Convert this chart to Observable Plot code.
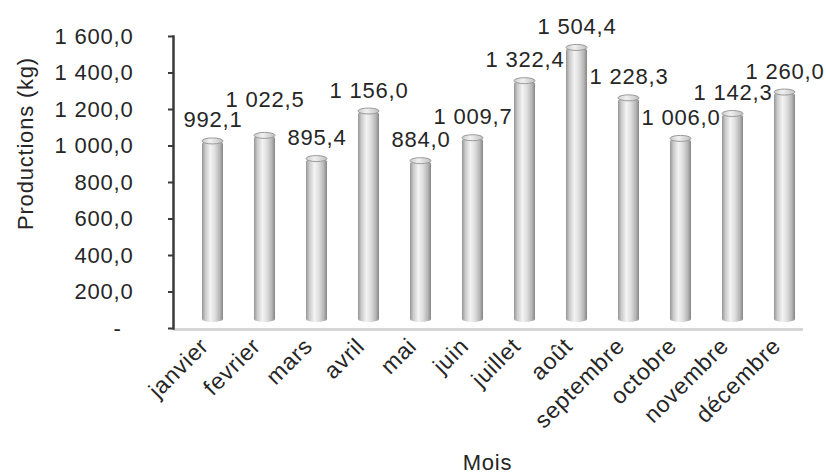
<!DOCTYPE html>
<html>
<head>
<meta charset="utf-8">
<script src="https://cdn.jsdelivr.net/npm/d3@7"></script>
<script src="https://cdn.jsdelivr.net/npm/@observablehq/plot@0.6"></script>
<style>
  html, body { margin: 0; padding: 0; background: #fff; }
  svg { font-family: "Liberation Sans", Arial, sans-serif; letter-spacing: 0.8px; }
</style>
</head>
<body>
<div id="chart"></div>
<script>
const months = ["janvier","fevrier","mars","avril","mai","juin","juillet","août","septembre","octobre","novembre","décembre"];
const productions = [992.1, 1022.5, 895.4, 1156.0, 884.0, 1009.7, 1322.4, 1504.4, 1228.3, 1006.0, 1142.3, 1260.0];
const yTicks = [0, 200, 400, 600, 800, 1000, 1200, 1400, 1600];
const yTitle = "Productions (kg)";
const xTitle = "Mois";

const data = months.map((m, i) => ({month: m, value: productions[i]}));
const fr = d3.formatLocale({decimal: ",", thousands: " ", grouping: [3]}).format(",.1f");
const textColor = "#262626";

const svg = Plot.plot({
  width: 826,
  height: 475,
  marginLeft: 173,
  marginRight: 3,
  marginTop: 36,
  marginBottom: 147,
  style: {color: textColor, background: "#fff", fontSize: "22px"},
  x: {domain: months, type: "band", paddingInner: 0.6, paddingOuter: 0.516, axis: null},
  y: {domain: [0, 1600], axis: null},
  marks: [
    Plot.ruleY([0], {stroke: "#d6d6d6", strokeWidth: 3, insetRight: 20, dy: 1}),
    Plot.barY(data, {x: "month", y: "value", fill: "url(#cyl)", rx: 10, ry: 3, dy: -6}),
    Plot.barY(data, {x: "month", y1: "value", y2: "value", insetTop: -3, insetBottom: -3,
      fill: "url(#cap)", stroke: "#9a9a9a", strokeWidth: 1, rx: 10.5, ry: 3, dy: -6}),
    Plot.text(data, {filter: d => d.month !== "fevrier", x: "month", y: "value", text: d => fr(d.value),
      lineAnchor: "bottom", dy: -20, fontSize: 22, fill: textColor}),
    Plot.text(data, {filter: d => d.month === "fevrier", x: "month", y: "value", text: d => fr(d.value),
      lineAnchor: "bottom", dy: -35, fontSize: 22, fill: textColor}),
    Plot.axisY({ticks: yTicks, tickSize: 5, tickPadding: 35, fontSize: 22, label: null,
      tickFormat: d => d === 0 ? "" : fr(d), stroke: "#3a3a3a", strokeWidth: 2, fill: textColor}),
    Plot.text(["-"], {y: () => 0, frameAnchor: "left", dx: -56, textAnchor: "middle", fontSize: 22, fill: textColor}),
    Plot.frame({anchor: "left", stroke: "#3a3a3a", strokeWidth: 2.5}),
    Plot.text(months, {x: d => d, frameAnchor: "bottom", rotate: -45, textAnchor: "end",
      dy: 19, dx: -3, fontSize: 23, fill: textColor}),
    Plot.text([xTitle], {frameAnchor: "bottom", textAnchor: "middle", dy: 141, dx: -11, fontSize: 22, fill: textColor}),
    Plot.text([yTitle], {frameAnchor: "left", textAnchor: "middle", rotate: -90, dx: -148, dy: -39, fontSize: 22, fill: textColor})
  ]
});

const root = svg.tagName.toLowerCase() === "svg" ? svg : svg.querySelector("svg");
const ns = "http://www.w3.org/2000/svg";
const defs = document.createElementNS(ns, "defs");
function grad(id, stops) {
  const g = document.createElementNS(ns, "linearGradient");
  g.setAttribute("id", id);
  g.setAttribute("x1", "0"); g.setAttribute("x2", "1");
  g.setAttribute("y1", "0"); g.setAttribute("y2", "0");
  for (const [o, c] of stops) {
    const s = document.createElementNS(ns, "stop");
    s.setAttribute("offset", o);
    s.setAttribute("stop-color", c);
    g.appendChild(s);
  }
  defs.appendChild(g);
}
grad("cyl", [[0, "#959595"], [0.15, "#c8c8c8"], [0.4, "#f3f3f3"], [0.6, "#e0e0e0"], [0.85, "#b5b5b5"], [1, "#858585"]]);
grad("cap", [[0, "#cccccc"], [0.4, "#f0f0f0"], [1, "#c0c0c0"]]);
root.insertBefore(defs, root.firstChild);
document.getElementById("chart").appendChild(svg);
</script>
</body>
</html>
